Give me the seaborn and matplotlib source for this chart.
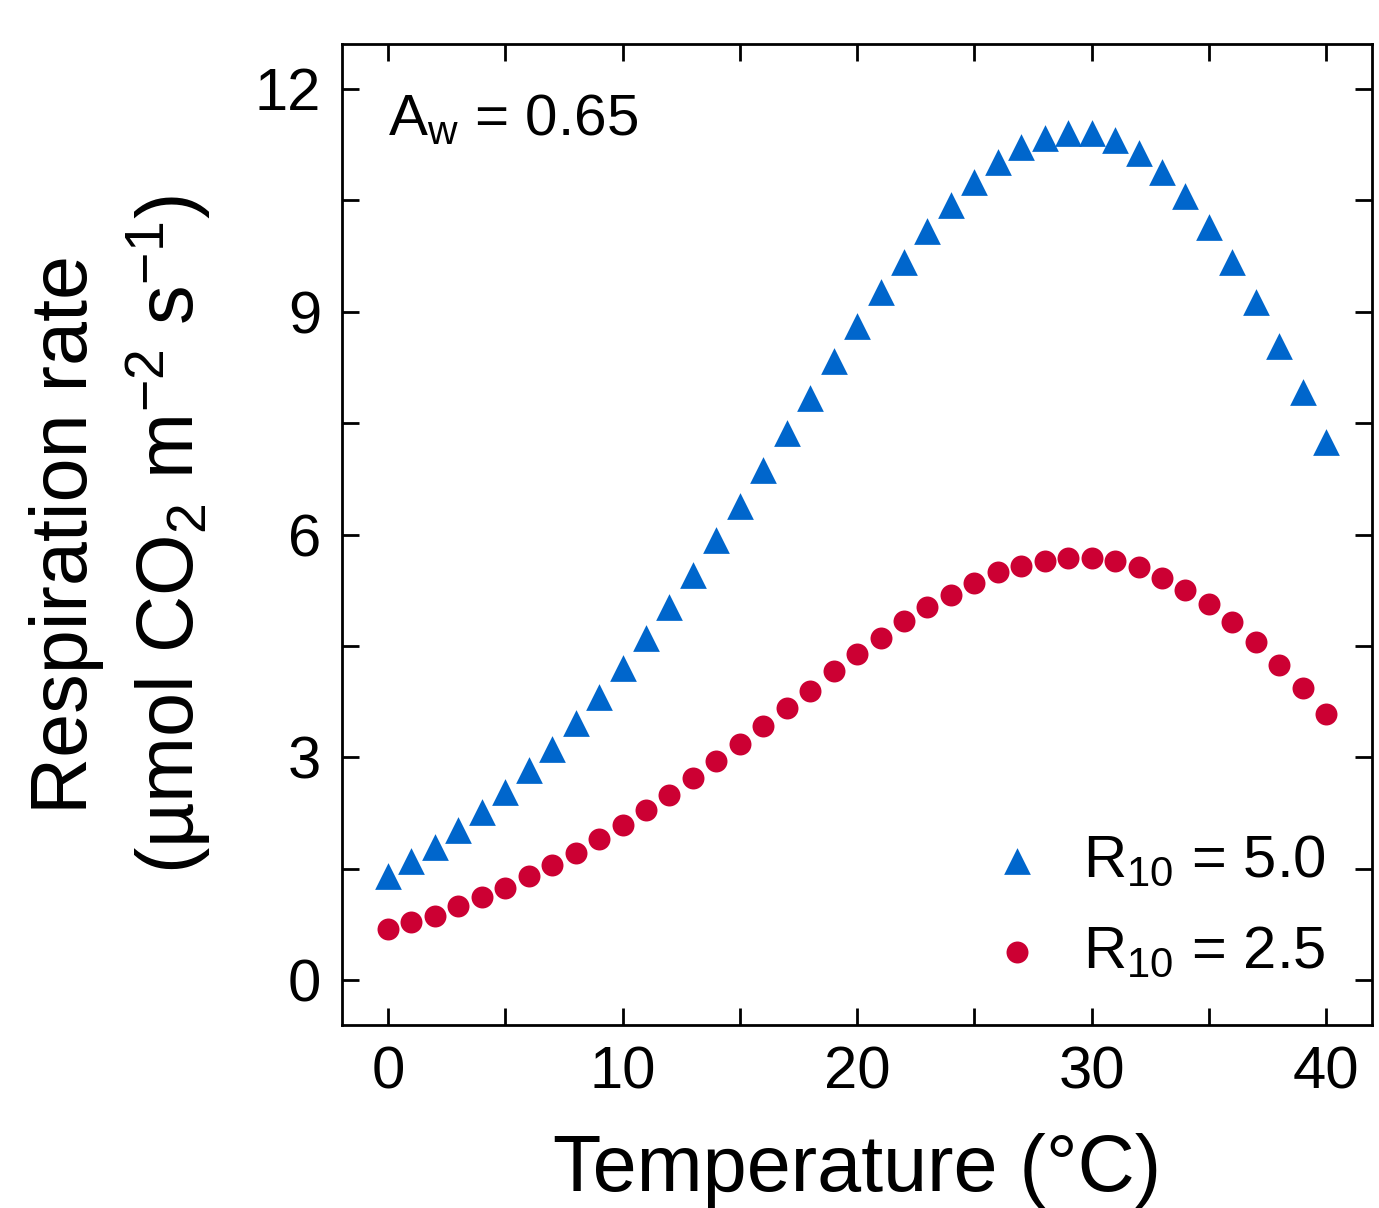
import numpy as np
import pandas as pd
import matplotlib
matplotlib.use("Agg")
import matplotlib.pyplot as plt
import seaborn as sns
from matplotlib.ticker import MultipleLocator

# ---- data ----
temperature = list(range(0, 41))
rate_r10_50 = [1.41, 1.61, 1.80, 2.03, 2.27, 2.54, 2.83, 3.12, 3.47, 3.82,
               4.21, 4.61, 5.02, 5.46, 5.92, 6.39, 6.87, 7.36, 7.84, 8.34,
               8.80, 9.26, 9.67, 10.08, 10.43, 10.75, 11.02, 11.21, 11.34, 11.41,
               11.40, 11.31, 11.14, 10.88, 10.56, 10.14, 9.67, 9.13, 8.54, 7.92,
               7.25]
rate_r10_25 = [0.69, 0.78, 0.87, 1.00, 1.12, 1.25, 1.40, 1.55, 1.72, 1.90,
               2.09, 2.29, 2.49, 2.72, 2.95, 3.18, 3.42, 3.66, 3.90, 4.16,
               4.39, 4.61, 4.83, 5.02, 5.19, 5.35, 5.49, 5.58, 5.65, 5.68,
               5.68, 5.64, 5.56, 5.42, 5.25, 5.06, 4.82, 4.55, 4.25, 3.94,
               3.59]
label_50 = r"R$_{10}$ = 5.0"
label_25 = r"R$_{10}$ = 2.5"
x_ticks = [0, 10, 20, 30, 40]
y_ticks = [0, 3, 6, 9, 12]

df50 = pd.DataFrame({"T": temperature, "R": rate_r10_50})
df25 = pd.DataFrame({"T": temperature, "R": rate_r10_25})

sns.set_theme(style="white")
plt.rcParams["font.family"] = ["Liberation Sans", "DejaVu Sans"]
plt.rcParams["mathtext.fontset"] = "custom"
plt.rcParams["mathtext.rm"] = "Liberation Sans"
plt.rcParams["mathtext.it"] = "Liberation Sans:italic"
plt.rcParams["mathtext.bf"] = "Liberation Sans:bold"
plt.rcParams["axes.unicode_minus"] = True
plt.rcParams["text.color"] = "black"

fig = plt.figure(figsize=(13.79, 12.08), dpi=100)
ax = fig.add_axes([0.248, 0.1515, 0.747, 0.812])

sns.scatterplot(data=df50, x="T", y="R", ax=ax, marker="^", s=370,
                color="#0066CC", linewidth=0, label=label_50)
sns.scatterplot(data=df25, x="T", y="R", ax=ax, marker="o", s=250,
                color="#CC0033", linewidth=0, label=label_25)

ax.set_xlim(-1.96, 41.96)
ax.set_ylim(-0.6, 12.6)
ax.set_xticks(x_ticks)
ax.set_yticks(y_ticks)
ax.xaxis.set_minor_locator(MultipleLocator(5))
ax.yaxis.set_minor_locator(MultipleLocator(1.5))
ax.tick_params(which="both", direction="in", length=12, width=2,
               top=True, right=True, bottom=True, left=True, color="black")
ax.tick_params(which="major", labelsize=43, pad=15, labelcolor="black")
for sp in ax.spines.values():
    sp.set_linewidth(2)
    sp.set_color("black")

ax.set_xlabel("Temperature (°C)", fontsize=57, labelpad=23, color="black")
ax.set_ylabel("Respiration rate\n" + r"(µmol CO$_2$ m$^{-2}$ s$^{-1}$)",
              fontsize=57, labelpad=30, linespacing=1.27, color="black")

ax.text(0.0447, 0.907, r"A$_\mathrm{w}$ = 0.65", transform=ax.transAxes,
        fontsize=42, va="baseline", ha="left", color="black")

leg = ax.legend(loc="lower right", bbox_to_anchor=(0.955, 0.046),
                frameon=False, fontsize=43, handlelength=1.0,
                handletextpad=0.6, labelspacing=0.6, borderpad=0,
                borderaxespad=0, labelcolor="black")

fig.savefig("out.png", dpi=100)
